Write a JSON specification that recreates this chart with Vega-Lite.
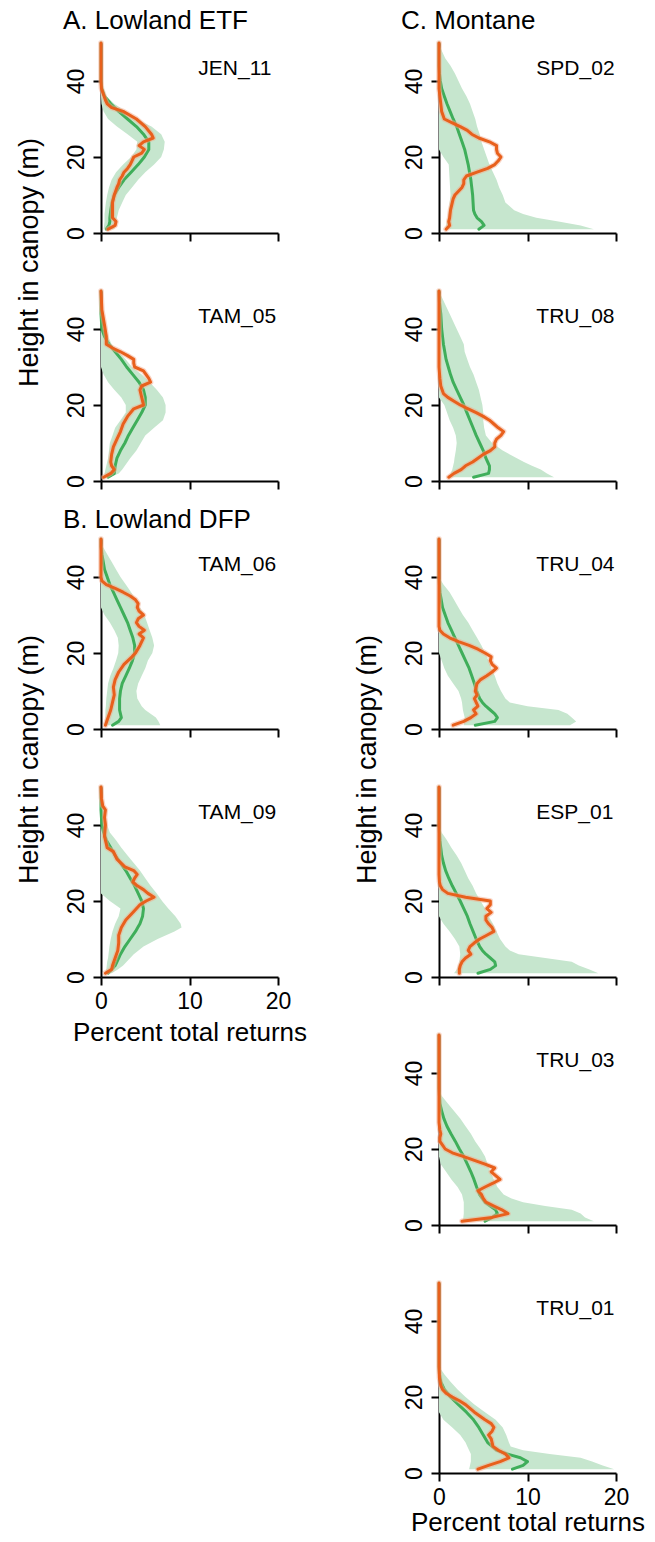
{
"$schema": "https://vega.github.io/schema/vega-lite/v6.json",
"padding": {"left": 15, "top": 8, "right": 5, "bottom": 0},
"config": {
  "font": "Liberation Sans",
  "view": {"stroke": null},
  "axis": {"grid": false, "domainColor": "black", "domainWidth": 2, "tickColor": "black", "tickWidth": 2, "tickSize": 8, "labelColor": "black", "labelFontSize": 23, "titleColor": "black", "titleFontSize": 26, "titleFontWeight": "normal", "labelFlush": false, "labelOverlap": false}
},
"datasets": {
"labels": [{"site":"JEN_11"},{"site":"TAM_05"},{"site":"TAM_06"},{"site":"TAM_09"},{"site":"SPD_02"},{"site":"TRU_08"},{"site":"TRU_04"},{"site":"ESP_01"},{"site":"TRU_03"},{"site":"TRU_01"}],
"band": [
{"site":"JEN_11","h":1,"lo":0.3,"hi":1.5,"pct":0.6},{"site":"JEN_11","h":2,"lo":0.35,"hi":1.6,"pct":0.9},{"site":"JEN_11","h":3,"lo":0.4,"hi":1.7,"pct":1.0},{"site":"JEN_11","h":4,"lo":0.4,"hi":1.8,"pct":1.0},{"site":"JEN_11","h":5,"lo":0.4,"hi":1.9,"pct":1.05},{"site":"JEN_11","h":6,"lo":0.45,"hi":2.0,"pct":1.1},{"site":"JEN_11","h":8,"lo":0.55,"hi":2.4,"pct":1.25},{"site":"JEN_11","h":10,"lo":0.7,"hi":2.8,"pct":1.5},{"site":"JEN_11","h":12,"lo":0.9,"hi":3.5,"pct":2.0},{"site":"JEN_11","h":14,"lo":1.2,"hi":4.2,"pct":2.6},{"site":"JEN_11","h":16,"lo":1.7,"hi":5.0,"pct":3.4},{"site":"JEN_11","h":18,"lo":2.5,"hi":6.0,"pct":4.2},{"site":"JEN_11","h":20,"lo":3.4,"hi":6.8,"pct":4.9},{"site":"JEN_11","h":22,"lo":4.0,"hi":7.1,"pct":5.4},{"site":"JEN_11","h":24,"lo":4.1,"hi":7.2,"pct":5.4},{"site":"JEN_11","h":26,"lo":3.0,"hi":6.8,"pct":4.8},{"site":"JEN_11","h":28,"lo":1.8,"hi":5.7,"pct":4.0},{"site":"JEN_11","h":30,"lo":0.8,"hi":4.0,"pct":3.0},{"site":"JEN_11","h":32,"lo":0.3,"hi":2.8,"pct":2.0},{"site":"JEN_11","h":34,"lo":0.05,"hi":1.5,"pct":1.1},{"site":"JEN_11","h":36,"lo":0,"hi":0.6,"pct":0.4},{"site":"JEN_11","h":38,"lo":0,"hi":0.2,"pct":0.1},{"site":"JEN_11","h":40,"lo":0,"hi":0.05,"pct":0},{"site":"JEN_11","h":50,"lo":0,"hi":0,"pct":0},
{"site":"TAM_05","h":1,"lo":0.3,"hi":1.0,"pct":0.8},{"site":"TAM_05","h":2,"lo":0.4,"hi":2.0,"pct":1.5},{"site":"TAM_05","h":3,"lo":0.5,"hi":2.4,"pct":1.55},{"site":"TAM_05","h":4,"lo":0.6,"hi":2.7,"pct":1.6},{"site":"TAM_05","h":5,"lo":0.7,"hi":3.0,"pct":1.7},{"site":"TAM_05","h":6,"lo":0.8,"hi":3.3,"pct":1.8},{"site":"TAM_05","h":8,"lo":0.9,"hi":4.0,"pct":2.2},{"site":"TAM_05","h":10,"lo":1.0,"hi":4.5,"pct":2.7},{"site":"TAM_05","h":12,"lo":1.3,"hi":5.0,"pct":3.1},{"site":"TAM_05","h":14,"lo":1.6,"hi":6.0,"pct":3.6},{"site":"TAM_05","h":16,"lo":2.2,"hi":7.0,"pct":4.1},{"site":"TAM_05","h":18,"lo":2.8,"hi":7.3,"pct":4.6},{"site":"TAM_05","h":20,"lo":2.8,"hi":7.3,"pct":5.0},{"site":"TAM_05","h":22,"lo":2.3,"hi":7.0,"pct":5.0},{"site":"TAM_05","h":24,"lo":1.5,"hi":6.3,"pct":4.8},{"site":"TAM_05","h":26,"lo":0.8,"hi":5.5,"pct":4.3},{"site":"TAM_05","h":28,"lo":0.3,"hi":4.6,"pct":3.6},{"site":"TAM_05","h":30,"lo":0,"hi":3.5,"pct":2.9},{"site":"TAM_05","h":32,"lo":0,"hi":2.8,"pct":2.3},{"site":"TAM_05","h":34,"lo":0,"hi":2.0,"pct":1.6},{"site":"TAM_05","h":36,"lo":0,"hi":1.2,"pct":0.9},{"site":"TAM_05","h":38,"lo":0,"hi":0.8,"pct":0.4},{"site":"TAM_05","h":40,"lo":0,"hi":0.5,"pct":0.1},{"site":"TAM_05","h":42,"lo":0,"hi":0.3,"pct":0.05},{"site":"TAM_05","h":44,"lo":0,"hi":0.1,"pct":0},{"site":"TAM_05","h":50,"lo":0,"hi":0,"pct":0},
{"site":"TAM_06","h":1,"lo":0.4,"hi":6.7,"pct":1.3},{"site":"TAM_06","h":2,"lo":0.45,"hi":6.5,"pct":2.0},{"site":"TAM_06","h":3,"lo":0.5,"hi":6.2,"pct":2.3},{"site":"TAM_06","h":4,"lo":0.5,"hi":5.6,"pct":2.2},{"site":"TAM_06","h":5,"lo":0.5,"hi":5.0,"pct":2.1},{"site":"TAM_06","h":6,"lo":0.55,"hi":4.6,"pct":2.1},{"site":"TAM_06","h":8,"lo":0.6,"hi":4.1,"pct":2.1},{"site":"TAM_06","h":10,"lo":0.7,"hi":4.0,"pct":2.2},{"site":"TAM_06","h":12,"lo":0.8,"hi":4.2,"pct":2.4},{"site":"TAM_06","h":14,"lo":1.05,"hi":4.6,"pct":2.8},{"site":"TAM_06","h":16,"lo":1.4,"hi":5.0,"pct":3.2},{"site":"TAM_06","h":18,"lo":1.7,"hi":5.3,"pct":3.55},{"site":"TAM_06","h":20,"lo":1.95,"hi":5.8,"pct":3.8},{"site":"TAM_06","h":22,"lo":2.0,"hi":6.0,"pct":3.8},{"site":"TAM_06","h":24,"lo":1.9,"hi":5.8,"pct":3.6},{"site":"TAM_06","h":26,"lo":1.5,"hi":5.5,"pct":3.3},{"site":"TAM_06","h":28,"lo":1.0,"hi":5.2,"pct":3.0},{"site":"TAM_06","h":30,"lo":0.4,"hi":4.9,"pct":2.6},{"site":"TAM_06","h":32,"lo":0,"hi":4.4,"pct":2.2},{"site":"TAM_06","h":34,"lo":0,"hi":3.9,"pct":1.8},{"site":"TAM_06","h":36,"lo":0,"hi":3.4,"pct":1.4},{"site":"TAM_06","h":38,"lo":0,"hi":2.8,"pct":1.0},{"site":"TAM_06","h":40,"lo":0,"hi":2.2,"pct":0.7},{"site":"TAM_06","h":42,"lo":0,"hi":1.7,"pct":0.4},{"site":"TAM_06","h":44,"lo":0,"hi":1.2,"pct":0.25},{"site":"TAM_06","h":46,"lo":0,"hi":0.7,"pct":0.1},{"site":"TAM_06","h":48,"lo":0,"hi":0.2,"pct":0},{"site":"TAM_06","h":50,"lo":0,"hi":0,"pct":0},
{"site":"TAM_09","h":1,"lo":0.4,"hi":1.2,"pct":0.8},{"site":"TAM_09","h":2,"lo":0.6,"hi":1.9,"pct":1.2},{"site":"TAM_09","h":3,"lo":0.65,"hi":2.5,"pct":1.6},{"site":"TAM_09","h":4,"lo":0.7,"hi":2.9,"pct":1.8},{"site":"TAM_09","h":5,"lo":0.8,"hi":3.3,"pct":2.0},{"site":"TAM_09","h":6,"lo":0.85,"hi":3.7,"pct":2.2},{"site":"TAM_09","h":8,"lo":0.95,"hi":4.8,"pct":2.7},{"site":"TAM_09","h":10,"lo":1.1,"hi":6.4,"pct":3.3},{"site":"TAM_09","h":12,"lo":1.3,"hi":8.3,"pct":3.9},{"site":"TAM_09","h":13,"lo":1.45,"hi":9.1,"pct":4.15},{"site":"TAM_09","h":14,"lo":1.6,"hi":9.0,"pct":4.4},{"site":"TAM_09","h":16,"lo":2.0,"hi":8.4,"pct":4.7},{"site":"TAM_09","h":18,"lo":2.2,"hi":7.6,"pct":4.8},{"site":"TAM_09","h":20,"lo":1.0,"hi":6.9,"pct":4.6},{"site":"TAM_09","h":22,"lo":0,"hi":6.3,"pct":4.2},{"site":"TAM_09","h":24,"lo":0,"hi":5.6,"pct":3.8},{"site":"TAM_09","h":26,"lo":0,"hi":5.0,"pct":3.3},{"site":"TAM_09","h":28,"lo":0,"hi":4.4,"pct":2.8},{"site":"TAM_09","h":30,"lo":0,"hi":3.7,"pct":2.2},{"site":"TAM_09","h":32,"lo":0,"hi":3.0,"pct":1.6},{"site":"TAM_09","h":34,"lo":0,"hi":2.3,"pct":1.1},{"site":"TAM_09","h":36,"lo":0,"hi":1.7,"pct":0.6},{"site":"TAM_09","h":38,"lo":0,"hi":1.0,"pct":0.3},{"site":"TAM_09","h":40,"lo":0,"hi":0.7,"pct":0.1},{"site":"TAM_09","h":42,"lo":0,"hi":0.5,"pct":0.05},{"site":"TAM_09","h":44,"lo":0,"hi":0.4,"pct":0},{"site":"TAM_09","h":47,"lo":0,"hi":0.2,"pct":0},{"site":"TAM_09","h":50,"lo":0,"hi":0,"pct":0},
{"site":"SPD_02","h":1,"lo":0.7,"hi":17.5,"pct":4.5},{"site":"SPD_02","h":2,"lo":0.8,"hi":16.0,"pct":5.1},{"site":"SPD_02","h":3,"lo":0.9,"hi":13.5,"pct":4.8},{"site":"SPD_02","h":4,"lo":1.0,"hi":11.0,"pct":4.3},{"site":"SPD_02","h":5,"lo":1.05,"hi":9.5,"pct":4.05},{"site":"SPD_02","h":6,"lo":1.1,"hi":8.5,"pct":3.9},{"site":"SPD_02","h":8,"lo":1.2,"hi":7.5,"pct":3.85},{"site":"SPD_02","h":10,"lo":1.3,"hi":7.2,"pct":3.8},{"site":"SPD_02","h":12,"lo":1.25,"hi":6.8,"pct":3.7},{"site":"SPD_02","h":14,"lo":1.2,"hi":6.5,"pct":3.6},{"site":"SPD_02","h":16,"lo":1.15,"hi":6.1,"pct":3.45},{"site":"SPD_02","h":18,"lo":1.1,"hi":5.7,"pct":3.3},{"site":"SPD_02","h":20,"lo":0.5,"hi":5.4,"pct":3.1},{"site":"SPD_02","h":22,"lo":0,"hi":5.1,"pct":2.9},{"site":"SPD_02","h":24,"lo":0,"hi":4.8,"pct":2.6},{"site":"SPD_02","h":26,"lo":0,"hi":4.6,"pct":2.3},{"site":"SPD_02","h":28,"lo":0,"hi":4.3,"pct":2.0},{"site":"SPD_02","h":30,"lo":0,"hi":4.1,"pct":1.6},{"site":"SPD_02","h":32,"lo":0,"hi":3.8,"pct":1.25},{"site":"SPD_02","h":34,"lo":0,"hi":3.5,"pct":0.9},{"site":"SPD_02","h":36,"lo":0,"hi":3.1,"pct":0.6},{"site":"SPD_02","h":38,"lo":0,"hi":2.6,"pct":0.3},{"site":"SPD_02","h":40,"lo":0,"hi":2.2,"pct":0.15},{"site":"SPD_02","h":42,"lo":0,"hi":1.8,"pct":0.05},{"site":"SPD_02","h":44,"lo":0,"hi":1.3,"pct":0},{"site":"SPD_02","h":46,"lo":0,"hi":0.7,"pct":0},{"site":"SPD_02","h":48,"lo":0,"hi":0.3,"pct":0},{"site":"SPD_02","h":50,"lo":0,"hi":0,"pct":0},
{"site":"TRU_08","h":1,"lo":1.0,"hi":13.0,"pct":3.9},{"site":"TRU_08","h":2,"lo":1.3,"hi":12.2,"pct":5.6},{"site":"TRU_08","h":3,"lo":1.5,"hi":11.5,"pct":5.7},{"site":"TRU_08","h":4,"lo":1.6,"hi":10.5,"pct":5.7},{"site":"TRU_08","h":5,"lo":1.7,"hi":9.6,"pct":5.5},{"site":"TRU_08","h":6,"lo":1.75,"hi":8.8,"pct":5.3},{"site":"TRU_08","h":8,"lo":1.9,"hi":7.2,"pct":5.0},{"site":"TRU_08","h":10,"lo":2.0,"hi":6.0,"pct":4.6},{"site":"TRU_08","h":12,"lo":1.9,"hi":5.3,"pct":4.2},{"site":"TRU_08","h":14,"lo":1.6,"hi":5.1,"pct":3.85},{"site":"TRU_08","h":16,"lo":1.2,"hi":5.0,"pct":3.5},{"site":"TRU_08","h":18,"lo":0.9,"hi":5.0,"pct":3.15},{"site":"TRU_08","h":20,"lo":0.6,"hi":4.9,"pct":2.8},{"site":"TRU_08","h":22,"lo":0,"hi":4.7,"pct":2.4},{"site":"TRU_08","h":24,"lo":0,"hi":4.5,"pct":2.0},{"site":"TRU_08","h":26,"lo":0,"hi":4.2,"pct":1.6},{"site":"TRU_08","h":28,"lo":0,"hi":3.9,"pct":1.3},{"site":"TRU_08","h":30,"lo":0,"hi":3.5,"pct":1.05},{"site":"TRU_08","h":32,"lo":0,"hi":3.2,"pct":0.8},{"site":"TRU_08","h":34,"lo":0,"hi":2.9,"pct":0.65},{"site":"TRU_08","h":36,"lo":0,"hi":2.8,"pct":0.5},{"site":"TRU_08","h":38,"lo":0,"hi":2.4,"pct":0.4},{"site":"TRU_08","h":40,"lo":0,"hi":2.0,"pct":0.3},{"site":"TRU_08","h":44,"lo":0,"hi":1.2,"pct":0.2},{"site":"TRU_08","h":47,"lo":0,"hi":0.6,"pct":0.05},{"site":"TRU_08","h":50,"lo":0,"hi":0,"pct":0},
{"site":"TRU_04","h":1,"lo":2.8,"hi":14.8,"pct":4.1},{"site":"TRU_04","h":2,"lo":2.85,"hi":15.5,"pct":6.3},{"site":"TRU_04","h":3,"lo":2.9,"hi":15.0,"pct":6.6},{"site":"TRU_04","h":4,"lo":2.8,"hi":14.5,"pct":6.3},{"site":"TRU_04","h":5,"lo":2.7,"hi":13.5,"pct":5.8},{"site":"TRU_04","h":6,"lo":2.65,"hi":10.0,"pct":5.3},{"site":"TRU_04","h":7,"lo":2.6,"hi":8.0,"pct":4.9},{"site":"TRU_04","h":8,"lo":2.5,"hi":7.5,"pct":4.6},{"site":"TRU_04","h":10,"lo":2.2,"hi":7.0,"pct":4.25},{"site":"TRU_04","h":12,"lo":1.6,"hi":6.6,"pct":4.0},{"site":"TRU_04","h":14,"lo":1.0,"hi":6.3,"pct":3.7},{"site":"TRU_04","h":16,"lo":0.6,"hi":5.9,"pct":3.4},{"site":"TRU_04","h":18,"lo":0.3,"hi":5.6,"pct":3.0},{"site":"TRU_04","h":20,"lo":0,"hi":5.2,"pct":2.6},{"site":"TRU_04","h":22,"lo":0,"hi":4.8,"pct":2.2},{"site":"TRU_04","h":24,"lo":0,"hi":4.3,"pct":1.8},{"site":"TRU_04","h":26,"lo":0,"hi":3.8,"pct":1.4},{"site":"TRU_04","h":28,"lo":0,"hi":3.3,"pct":1.0},{"site":"TRU_04","h":30,"lo":0,"hi":2.7,"pct":0.7},{"site":"TRU_04","h":32,"lo":0,"hi":2.2,"pct":0.4},{"site":"TRU_04","h":34,"lo":0,"hi":1.7,"pct":0.25},{"site":"TRU_04","h":36,"lo":0,"hi":1.2,"pct":0.1},{"site":"TRU_04","h":38,"lo":0,"hi":0.5,"pct":0.05},{"site":"TRU_04","h":40,"lo":0,"hi":0,"pct":0},{"site":"TRU_04","h":50,"lo":0,"hi":0,"pct":0},
{"site":"ESP_01","h":1,"lo":1.7,"hi":18.0,"pct":4.4},{"site":"ESP_01","h":2,"lo":2.0,"hi":17.0,"pct":5.8},{"site":"ESP_01","h":3,"lo":2.2,"hi":15.8,"pct":6.4},{"site":"ESP_01","h":4,"lo":2.3,"hi":15.0,"pct":6.3},{"site":"ESP_01","h":5,"lo":2.35,"hi":12.0,"pct":5.8},{"site":"ESP_01","h":6,"lo":2.4,"hi":9.0,"pct":5.3},{"site":"ESP_01","h":7,"lo":2.35,"hi":8.0,"pct":4.9},{"site":"ESP_01","h":8,"lo":2.3,"hi":7.5,"pct":4.6},{"site":"ESP_01","h":10,"lo":1.8,"hi":6.9,"pct":4.2},{"site":"ESP_01","h":12,"lo":1.2,"hi":6.5,"pct":3.85},{"site":"ESP_01","h":14,"lo":0.5,"hi":6.1,"pct":3.5},{"site":"ESP_01","h":16,"lo":0,"hi":5.6,"pct":3.2},{"site":"ESP_01","h":18,"lo":0,"hi":5.2,"pct":2.8},{"site":"ESP_01","h":20,"lo":0,"hi":4.7,"pct":2.4},{"site":"ESP_01","h":22,"lo":0,"hi":4.2,"pct":1.95},{"site":"ESP_01","h":24,"lo":0,"hi":3.8,"pct":1.5},{"site":"ESP_01","h":26,"lo":0,"hi":3.3,"pct":1.1},{"site":"ESP_01","h":28,"lo":0,"hi":2.9,"pct":0.75},{"site":"ESP_01","h":30,"lo":0,"hi":2.5,"pct":0.5},{"site":"ESP_01","h":32,"lo":0,"hi":2.0,"pct":0.3},{"site":"ESP_01","h":34,"lo":0,"hi":1.4,"pct":0.2},{"site":"ESP_01","h":36,"lo":0,"hi":0.9,"pct":0.1},{"site":"ESP_01","h":38,"lo":0,"hi":0.3,"pct":0.05},{"site":"ESP_01","h":40,"lo":0,"hi":0,"pct":0},{"site":"ESP_01","h":50,"lo":0,"hi":0,"pct":0},
{"site":"TRU_03","h":1,"lo":2.7,"hi":17.5,"pct":5.2},{"site":"TRU_03","h":2,"lo":2.75,"hi":16.5,"pct":6.0},{"site":"TRU_03","h":3,"lo":2.8,"hi":16.0,"pct":6.6},{"site":"TRU_03","h":4,"lo":2.8,"hi":15.0,"pct":6.4},{"site":"TRU_03","h":5,"lo":2.8,"hi":12.0,"pct":5.8},{"site":"TRU_03","h":6,"lo":2.8,"hi":9.5,"pct":5.2},{"site":"TRU_03","h":7,"lo":2.7,"hi":8.2,"pct":4.9},{"site":"TRU_03","h":8,"lo":2.6,"hi":7.3,"pct":4.6},{"site":"TRU_03","h":10,"lo":2.1,"hi":6.6,"pct":4.25},{"site":"TRU_03","h":12,"lo":1.4,"hi":6.2,"pct":3.95},{"site":"TRU_03","h":14,"lo":0.8,"hi":5.8,"pct":3.6},{"site":"TRU_03","h":16,"lo":0.2,"hi":5.5,"pct":3.2},{"site":"TRU_03","h":18,"lo":0,"hi":5.2,"pct":2.8},{"site":"TRU_03","h":20,"lo":0,"hi":4.7,"pct":2.3},{"site":"TRU_03","h":22,"lo":0,"hi":4.1,"pct":1.85},{"site":"TRU_03","h":24,"lo":0,"hi":3.6,"pct":1.35},{"site":"TRU_03","h":26,"lo":0,"hi":3.0,"pct":0.9},{"site":"TRU_03","h":28,"lo":0,"hi":2.4,"pct":0.55},{"site":"TRU_03","h":30,"lo":0,"hi":1.7,"pct":0.3},{"site":"TRU_03","h":32,"lo":0,"hi":1.0,"pct":0.1},{"site":"TRU_03","h":34,"lo":0,"hi":0.3,"pct":0.05},{"site":"TRU_03","h":36,"lo":0,"hi":0,"pct":0},{"site":"TRU_03","h":50,"lo":0,"hi":0,"pct":0},
{"site":"TRU_01","h":1,"lo":3.4,"hi":19.8,"pct":8.3},{"site":"TRU_01","h":2,"lo":3.5,"hi":18.5,"pct":9.5},{"site":"TRU_01","h":3,"lo":3.6,"hi":17.3,"pct":10.0},{"site":"TRU_01","h":4,"lo":3.6,"hi":16.0,"pct":9.2},{"site":"TRU_01","h":5,"lo":3.6,"hi":12.5,"pct":7.7},{"site":"TRU_01","h":6,"lo":3.4,"hi":9.5,"pct":6.5},{"site":"TRU_01","h":7,"lo":3.2,"hi":8.1,"pct":6.0},{"site":"TRU_01","h":8,"lo":3.0,"hi":7.9,"pct":5.5},{"site":"TRU_01","h":10,"lo":2.4,"hi":7.6,"pct":5.0},{"site":"TRU_01","h":12,"lo":1.5,"hi":7.2,"pct":4.5},{"site":"TRU_01","h":14,"lo":0.5,"hi":6.4,"pct":3.9},{"site":"TRU_01","h":16,"lo":0,"hi":5.2,"pct":3.1},{"site":"TRU_01","h":18,"lo":0,"hi":4.0,"pct":2.2},{"site":"TRU_01","h":20,"lo":0,"hi":3.0,"pct":1.3},{"site":"TRU_01","h":22,"lo":0,"hi":2.1,"pct":0.6},{"site":"TRU_01","h":24,"lo":0,"hi":1.3,"pct":0.2},{"site":"TRU_01","h":26,"lo":0,"hi":0.6,"pct":0.05},{"site":"TRU_01","h":28,"lo":0,"hi":0,"pct":0},{"site":"TRU_01","h":50,"lo":0,"hi":0,"pct":0}
],
"obs": [
{"site":"JEN_11","h":1,"pct":0.8},{"site":"JEN_11","h":2,"pct":1.6},{"site":"JEN_11","h":3,"pct":1.7},{"site":"JEN_11","h":4,"pct":1.3},{"site":"JEN_11","h":6,"pct":1.3},{"site":"JEN_11","h":8,"pct":1.3},{"site":"JEN_11","h":10,"pct":1.5},{"site":"JEN_11","h":12,"pct":1.8},{"site":"JEN_11","h":13,"pct":2.0},{"site":"JEN_11","h":14,"pct":2.1},{"site":"JEN_11","h":15,"pct":2.4},{"site":"JEN_11","h":16,"pct":2.6},{"site":"JEN_11","h":17,"pct":3.0},{"site":"JEN_11","h":18,"pct":3.3},{"site":"JEN_11","h":19,"pct":3.5},{"site":"JEN_11","h":20,"pct":3.7},{"site":"JEN_11","h":21,"pct":4.6},{"site":"JEN_11","h":22,"pct":4.9},{"site":"JEN_11","h":23,"pct":4.3},{"site":"JEN_11","h":24,"pct":4.8},{"site":"JEN_11","h":25,"pct":5.9},{"site":"JEN_11","h":26,"pct":5.7},{"site":"JEN_11","h":28,"pct":5.0},{"site":"JEN_11","h":30,"pct":4.0},{"site":"JEN_11","h":32,"pct":2.5},{"site":"JEN_11","h":33,"pct":1.2},{"site":"JEN_11","h":34,"pct":0.7},{"site":"JEN_11","h":35,"pct":0.5},{"site":"JEN_11","h":37,"pct":0.2},{"site":"JEN_11","h":38,"pct":0.05},{"site":"JEN_11","h":40,"pct":0},{"site":"JEN_11","h":50,"pct":0},
{"site":"TAM_05","h":1,"pct":0.3},{"site":"TAM_05","h":2,"pct":1.1},{"site":"TAM_05","h":3,"pct":1.5},{"site":"TAM_05","h":4,"pct":1.2},{"site":"TAM_05","h":5,"pct":1.1},{"site":"TAM_05","h":7,"pct":1.2},{"site":"TAM_05","h":9,"pct":1.4},{"site":"TAM_05","h":11,"pct":1.8},{"site":"TAM_05","h":13,"pct":2.2},{"site":"TAM_05","h":15,"pct":2.5},{"site":"TAM_05","h":17,"pct":3.0},{"site":"TAM_05","h":19,"pct":3.7},{"site":"TAM_05","h":20,"pct":4.8},{"site":"TAM_05","h":21,"pct":4.7},{"site":"TAM_05","h":22,"pct":4.6},{"site":"TAM_05","h":23,"pct":4.5},{"site":"TAM_05","h":24,"pct":4.4},{"site":"TAM_05","h":25,"pct":4.6},{"site":"TAM_05","h":26,"pct":5.6},{"site":"TAM_05","h":27,"pct":5.4},{"site":"TAM_05","h":28,"pct":5.1},{"site":"TAM_05","h":29,"pct":4.8},{"site":"TAM_05","h":30,"pct":3.8},{"site":"TAM_05","h":31,"pct":3.7},{"site":"TAM_05","h":32,"pct":3.7},{"site":"TAM_05","h":33,"pct":3.0},{"site":"TAM_05","h":34,"pct":2.2},{"site":"TAM_05","h":35,"pct":1.3},{"site":"TAM_05","h":36,"pct":0.6},{"site":"TAM_05","h":38,"pct":0.6},{"site":"TAM_05","h":41,"pct":0.4},{"site":"TAM_05","h":45,"pct":0.1},{"site":"TAM_05","h":50,"pct":0},
{"site":"TAM_06","h":1,"pct":0.5},{"site":"TAM_06","h":3,"pct":0.8},{"site":"TAM_06","h":5,"pct":1.1},{"site":"TAM_06","h":7,"pct":1.3},{"site":"TAM_06","h":9,"pct":1.5},{"site":"TAM_06","h":11,"pct":1.4},{"site":"TAM_06","h":13,"pct":1.6},{"site":"TAM_06","h":15,"pct":2.0},{"site":"TAM_06","h":17,"pct":2.6},{"site":"TAM_06","h":19,"pct":3.5},{"site":"TAM_06","h":20,"pct":3.9},{"site":"TAM_06","h":22,"pct":4.4},{"site":"TAM_06","h":24,"pct":4.8},{"site":"TAM_06","h":25,"pct":4.3},{"site":"TAM_06","h":26,"pct":4.9},{"site":"TAM_06","h":27,"pct":4.3},{"site":"TAM_06","h":28,"pct":4.0},{"site":"TAM_06","h":29,"pct":4.2},{"site":"TAM_06","h":30,"pct":4.8},{"site":"TAM_06","h":31,"pct":4.3},{"site":"TAM_06","h":32,"pct":4.1},{"site":"TAM_06","h":33,"pct":4.2},{"site":"TAM_06","h":34,"pct":3.9},{"site":"TAM_06","h":35,"pct":3.3},{"site":"TAM_06","h":36,"pct":2.5},{"site":"TAM_06","h":37,"pct":1.6},{"site":"TAM_06","h":38,"pct":0.6},{"site":"TAM_06","h":39,"pct":0.1},{"site":"TAM_06","h":40,"pct":0},{"site":"TAM_06","h":50,"pct":0},
{"site":"TAM_09","h":1,"pct":0.5},{"site":"TAM_09","h":2,"pct":1.2},{"site":"TAM_09","h":3,"pct":1.3},{"site":"TAM_09","h":5,"pct":1.6},{"site":"TAM_09","h":7,"pct":1.9},{"site":"TAM_09","h":9,"pct":2.0},{"site":"TAM_09","h":11,"pct":2.0},{"site":"TAM_09","h":13,"pct":2.3},{"site":"TAM_09","h":15,"pct":2.8},{"site":"TAM_09","h":17,"pct":3.6},{"site":"TAM_09","h":19,"pct":4.4},{"site":"TAM_09","h":20,"pct":5.1},{"site":"TAM_09","h":21,"pct":6.0},{"site":"TAM_09","h":22,"pct":5.3},{"site":"TAM_09","h":23,"pct":4.8},{"site":"TAM_09","h":24,"pct":4.1},{"site":"TAM_09","h":25,"pct":3.6},{"site":"TAM_09","h":26,"pct":3.8},{"site":"TAM_09","h":27,"pct":4.1},{"site":"TAM_09","h":28,"pct":3.7},{"site":"TAM_09","h":29,"pct":2.7},{"site":"TAM_09","h":31,"pct":1.8},{"site":"TAM_09","h":33,"pct":1.4},{"site":"TAM_09","h":34,"pct":0.7},{"site":"TAM_09","h":35,"pct":0.6},{"site":"TAM_09","h":37,"pct":0.4},{"site":"TAM_09","h":40,"pct":0.5},{"site":"TAM_09","h":42,"pct":0.4},{"site":"TAM_09","h":44,"pct":0.5},{"site":"TAM_09","h":45,"pct":0.2},{"site":"TAM_09","h":47,"pct":0.05},{"site":"TAM_09","h":50,"pct":0},
{"site":"SPD_02","h":1,"pct":0.8},{"site":"SPD_02","h":2,"pct":1.2},{"site":"SPD_02","h":3,"pct":1.1},{"site":"SPD_02","h":4,"pct":1.2},{"site":"SPD_02","h":6,"pct":1.3},{"site":"SPD_02","h":8,"pct":1.5},{"site":"SPD_02","h":9,"pct":1.6},{"site":"SPD_02","h":10,"pct":1.8},{"site":"SPD_02","h":11,"pct":2.2},{"site":"SPD_02","h":12,"pct":2.6},{"site":"SPD_02","h":13,"pct":2.8},{"site":"SPD_02","h":14,"pct":2.8},{"site":"SPD_02","h":15,"pct":3.1},{"site":"SPD_02","h":16,"pct":4.3},{"site":"SPD_02","h":17,"pct":5.5},{"site":"SPD_02","h":18,"pct":6.3},{"site":"SPD_02","h":19,"pct":6.7},{"site":"SPD_02","h":20,"pct":7.0},{"site":"SPD_02","h":21,"pct":6.6},{"site":"SPD_02","h":22,"pct":6.5},{"site":"SPD_02","h":23,"pct":6.5},{"site":"SPD_02","h":24,"pct":5.7},{"site":"SPD_02","h":25,"pct":4.5},{"site":"SPD_02","h":26,"pct":3.7},{"site":"SPD_02","h":27,"pct":3.2},{"site":"SPD_02","h":28,"pct":2.4},{"site":"SPD_02","h":29,"pct":1.5},{"site":"SPD_02","h":30,"pct":0.6},{"site":"SPD_02","h":32,"pct":0.3},{"site":"SPD_02","h":36,"pct":0.1},{"site":"SPD_02","h":38,"pct":0},{"site":"SPD_02","h":50,"pct":0},
{"site":"TRU_08","h":1,"pct":1.1},{"site":"TRU_08","h":2,"pct":1.7},{"site":"TRU_08","h":3,"pct":2.5},{"site":"TRU_08","h":4,"pct":3.0},{"site":"TRU_08","h":5,"pct":3.8},{"site":"TRU_08","h":6,"pct":4.4},{"site":"TRU_08","h":7,"pct":5.0},{"site":"TRU_08","h":8,"pct":5.8},{"site":"TRU_08","h":9,"pct":6.3},{"site":"TRU_08","h":10,"pct":6.3},{"site":"TRU_08","h":11,"pct":6.5},{"site":"TRU_08","h":12,"pct":7.0},{"site":"TRU_08","h":13,"pct":7.3},{"site":"TRU_08","h":14,"pct":6.7},{"site":"TRU_08","h":15,"pct":6.2},{"site":"TRU_08","h":16,"pct":5.7},{"site":"TRU_08","h":17,"pct":5.0},{"site":"TRU_08","h":18,"pct":4.2},{"site":"TRU_08","h":19,"pct":3.3},{"site":"TRU_08","h":20,"pct":2.4},{"site":"TRU_08","h":21,"pct":1.7},{"site":"TRU_08","h":22,"pct":1.0},{"site":"TRU_08","h":23,"pct":0.5},{"site":"TRU_08","h":25,"pct":0.2},{"site":"TRU_08","h":27,"pct":0.1},{"site":"TRU_08","h":30,"pct":0},{"site":"TRU_08","h":50,"pct":0},
{"site":"TRU_04","h":1,"pct":1.6},{"site":"TRU_04","h":2,"pct":2.8},{"site":"TRU_04","h":3,"pct":3.6},{"site":"TRU_04","h":4,"pct":4.2},{"site":"TRU_04","h":5,"pct":3.9},{"site":"TRU_04","h":6,"pct":4.4},{"site":"TRU_04","h":7,"pct":4.2},{"site":"TRU_04","h":8,"pct":4.0},{"site":"TRU_04","h":9,"pct":4.3},{"site":"TRU_04","h":10,"pct":4.1},{"site":"TRU_04","h":11,"pct":4.2},{"site":"TRU_04","h":12,"pct":4.3},{"site":"TRU_04","h":13,"pct":4.7},{"site":"TRU_04","h":14,"pct":5.4},{"site":"TRU_04","h":15,"pct":6.0},{"site":"TRU_04","h":16,"pct":6.5},{"site":"TRU_04","h":17,"pct":6.0},{"site":"TRU_04","h":18,"pct":5.8},{"site":"TRU_04","h":19,"pct":5.9},{"site":"TRU_04","h":20,"pct":5.2},{"site":"TRU_04","h":21,"pct":4.4},{"site":"TRU_04","h":22,"pct":3.4},{"site":"TRU_04","h":23,"pct":2.2},{"site":"TRU_04","h":24,"pct":1.2},{"site":"TRU_04","h":25,"pct":0.5},{"site":"TRU_04","h":26,"pct":0.1},{"site":"TRU_04","h":27,"pct":0},{"site":"TRU_04","h":50,"pct":0},
{"site":"ESP_01","h":1,"pct":2.3},{"site":"ESP_01","h":2,"pct":2.3},{"site":"ESP_01","h":3,"pct":2.4},{"site":"ESP_01","h":4,"pct":2.6},{"site":"ESP_01","h":5,"pct":3.0},{"site":"ESP_01","h":6,"pct":3.6},{"site":"ESP_01","h":7,"pct":3.3},{"site":"ESP_01","h":8,"pct":3.5},{"site":"ESP_01","h":9,"pct":4.0},{"site":"ESP_01","h":10,"pct":4.6},{"site":"ESP_01","h":11,"pct":5.4},{"site":"ESP_01","h":12,"pct":6.2},{"site":"ESP_01","h":13,"pct":6.0},{"site":"ESP_01","h":14,"pct":5.6},{"site":"ESP_01","h":15,"pct":5.3},{"site":"ESP_01","h":16,"pct":5.3},{"site":"ESP_01","h":17,"pct":5.9},{"site":"ESP_01","h":18,"pct":5.4},{"site":"ESP_01","h":19,"pct":5.8},{"site":"ESP_01","h":20,"pct":5.8},{"site":"ESP_01","h":21,"pct":3.0},{"site":"ESP_01","h":22,"pct":1.0},{"site":"ESP_01","h":23,"pct":0.4},{"site":"ESP_01","h":24,"pct":0.15},{"site":"ESP_01","h":25,"pct":0.05},{"site":"ESP_01","h":27,"pct":0},{"site":"ESP_01","h":50,"pct":0},
{"site":"TRU_03","h":1,"pct":2.6},{"site":"TRU_03","h":2,"pct":6.0},{"site":"TRU_03","h":3,"pct":7.8},{"site":"TRU_03","h":4,"pct":7.1},{"site":"TRU_03","h":5,"pct":6.2},{"site":"TRU_03","h":6,"pct":5.3},{"site":"TRU_03","h":7,"pct":5.0},{"site":"TRU_03","h":8,"pct":4.8},{"site":"TRU_03","h":9,"pct":4.4},{"site":"TRU_03","h":10,"pct":5.2},{"site":"TRU_03","h":11,"pct":6.1},{"site":"TRU_03","h":12,"pct":6.9},{"site":"TRU_03","h":13,"pct":6.4},{"site":"TRU_03","h":14,"pct":5.9},{"site":"TRU_03","h":15,"pct":6.3},{"site":"TRU_03","h":16,"pct":5.2},{"site":"TRU_03","h":17,"pct":4.0},{"site":"TRU_03","h":18,"pct":2.8},{"site":"TRU_03","h":19,"pct":1.5},{"site":"TRU_03","h":20,"pct":0.7},{"site":"TRU_03","h":21,"pct":0.4},{"site":"TRU_03","h":22,"pct":0.1},{"site":"TRU_03","h":23,"pct":0.1},{"site":"TRU_03","h":24,"pct":0.2},{"site":"TRU_03","h":25,"pct":0.1},{"site":"TRU_03","h":27,"pct":0},{"site":"TRU_03","h":50,"pct":0},
{"site":"TRU_01","h":1,"pct":4.4},{"site":"TRU_01","h":2,"pct":5.6},{"site":"TRU_01","h":3,"pct":6.9},{"site":"TRU_01","h":4,"pct":7.9},{"site":"TRU_01","h":5,"pct":7.5},{"site":"TRU_01","h":6,"pct":6.7},{"site":"TRU_01","h":7,"pct":6.1},{"site":"TRU_01","h":8,"pct":6.0},{"site":"TRU_01","h":9,"pct":5.9},{"site":"TRU_01","h":10,"pct":5.6},{"site":"TRU_01","h":11,"pct":6.0},{"site":"TRU_01","h":12,"pct":6.2},{"site":"TRU_01","h":13,"pct":5.9},{"site":"TRU_01","h":14,"pct":5.2},{"site":"TRU_01","h":15,"pct":4.6},{"site":"TRU_01","h":16,"pct":4.0},{"site":"TRU_01","h":17,"pct":3.5},{"site":"TRU_01","h":18,"pct":3.0},{"site":"TRU_01","h":19,"pct":2.3},{"site":"TRU_01","h":20,"pct":1.5},{"site":"TRU_01","h":21,"pct":0.8},{"site":"TRU_01","h":22,"pct":0.4},{"site":"TRU_01","h":23,"pct":0.2},{"site":"TRU_01","h":25,"pct":0.05},{"site":"TRU_01","h":28,"pct":0},{"site":"TRU_01","h":50,"pct":0}
]
},
"hconcat": [
{"vconcat": [
 {"width":177,"height":190,
  "title":{"text":"A. Lowland ETF","anchor":"start","frame":"group","dx":-38,"dy":27,"offset":12,"baseline":"alphabetic","fontSize":26,"fontWeight":"normal","color":"black"},
  "layer":[
   {"encoding":{"y":{"field":"h","type":"quantitative","scale":{"domain":[0,50]},"axis":{"values":[0,10,20,30,40,50],"labelExpr":"datum.value % 20 === 0 && datum.value < 50 ? datum.label : ''","labelAngle":270,"labelAlign":"center","labelBaseline":"alphabetic","labelPadding":10,"title":"Height in canopy (m)","titleFontSize":27,"titleAngle":270,"titleAlign":"center","titleBaseline":"alphabetic","titleX":-64,"titleY":219}},
     "x":{"field":"pct","type":"quantitative","scale":{"domain":[0,20]},"axis":{"values":[0,10,20],"labels":false,"title":null}}},
    "layer":[
     {"data":{"name":"band"},"transform":[{"filter":"datum.site === 'JEN_11'"}],"mark":{"type":"area","orient":"horizontal","color":"#c6e6ce"},"encoding":{"x":{"field":"lo","type":"quantitative"},"x2":{"field":"hi"}}},
     {"data":{"name":"band"},"transform":[{"filter":"datum.site === 'JEN_11'"}],"mark":{"type":"line","color":"#3fae5a","strokeWidth":3,"strokeCap":"round","strokeJoin":"round"},"encoding":{"order":{"field":"h","type":"quantitative"}}},
     {"data":{"name":"obs"},"transform":[{"filter":"datum.site === 'JEN_11'"}],"mark":{"type":"line","color":"#f4a98c","strokeWidth":5.5,"opacity":0.5,"strokeCap":"round","strokeJoin":"round"},"encoding":{"order":{"field":"h","type":"quantitative"}}},
     {"data":{"name":"obs"},"transform":[{"filter":"datum.site === 'JEN_11'"}],"mark":{"type":"line","color":"#e8601c","strokeWidth":3,"strokeCap":"round","strokeJoin":"round"},"encoding":{"order":{"field":"h","type":"quantitative"}}}
    ]},
   {"data":{"name":"labels"},"transform":[{"filter":"datum.site === 'JEN_11'"}],"mark":{"type":"text","align":"left","baseline":"alphabetic","fontSize":21,"color":"black"},"encoding":{"x":{"datum":11,"type":"quantitative"},"y":{"datum":41.6,"type":"quantitative"},"text":{"field":"site","type":"nominal"}}}
  ]},
 {"width":177,"height":190,
  "layer":[
   {"encoding":{"y":{"field":"h","type":"quantitative","scale":{"domain":[0,50]},"axis":{"values":[0,10,20,30,40,50],"labelExpr":"datum.value % 20 === 0 && datum.value < 50 ? datum.label : ''","labelAngle":270,"labelAlign":"center","labelBaseline":"alphabetic","labelPadding":10,"title":null}},
     "x":{"field":"pct","type":"quantitative","scale":{"domain":[0,20]},"axis":{"values":[0,10,20],"labels":false,"title":null}}},
    "layer":[
     {"data":{"name":"band"},"transform":[{"filter":"datum.site === 'TAM_05'"}],"mark":{"type":"area","orient":"horizontal","color":"#c6e6ce"},"encoding":{"x":{"field":"lo","type":"quantitative"},"x2":{"field":"hi"}}},
     {"data":{"name":"band"},"transform":[{"filter":"datum.site === 'TAM_05'"}],"mark":{"type":"line","color":"#3fae5a","strokeWidth":3,"strokeCap":"round","strokeJoin":"round"},"encoding":{"order":{"field":"h","type":"quantitative"}}},
     {"data":{"name":"obs"},"transform":[{"filter":"datum.site === 'TAM_05'"}],"mark":{"type":"line","color":"#f4a98c","strokeWidth":5.5,"opacity":0.5,"strokeCap":"round","strokeJoin":"round"},"encoding":{"order":{"field":"h","type":"quantitative"}}},
     {"data":{"name":"obs"},"transform":[{"filter":"datum.site === 'TAM_05'"}],"mark":{"type":"line","color":"#e8601c","strokeWidth":3,"strokeCap":"round","strokeJoin":"round"},"encoding":{"order":{"field":"h","type":"quantitative"}}}
    ]},
   {"data":{"name":"labels"},"transform":[{"filter":"datum.site === 'TAM_05'"}],"mark":{"type":"text","align":"left","baseline":"alphabetic","fontSize":21,"color":"black"},"encoding":{"x":{"datum":11,"type":"quantitative"},"y":{"datum":41.6,"type":"quantitative"},"text":{"field":"site","type":"nominal"}}}
  ]},
 {"width":177,"height":190,
  "title":{"text":"B. Lowland DFP","anchor":"start","frame":"group","dx":-38,"dy":30,"offset":12,"baseline":"alphabetic","fontSize":26,"fontWeight":"normal","color":"black"},
  "layer":[
   {"encoding":{"y":{"field":"h","type":"quantitative","scale":{"domain":[0,50]},"axis":{"values":[0,10,20,30,40,50],"labelExpr":"datum.value % 20 === 0 && datum.value < 50 ? datum.label : ''","labelAngle":270,"labelAlign":"center","labelBaseline":"alphabetic","labelPadding":10,"title":"Height in canopy (m)","titleFontSize":27,"titleAngle":270,"titleAlign":"center","titleBaseline":"alphabetic","titleX":-64,"titleY":220}},
     "x":{"field":"pct","type":"quantitative","scale":{"domain":[0,20]},"axis":{"values":[0,10,20],"labels":false,"title":null}}},
    "layer":[
     {"data":{"name":"band"},"transform":[{"filter":"datum.site === 'TAM_06'"}],"mark":{"type":"area","orient":"horizontal","color":"#c6e6ce"},"encoding":{"x":{"field":"lo","type":"quantitative"},"x2":{"field":"hi"}}},
     {"data":{"name":"band"},"transform":[{"filter":"datum.site === 'TAM_06'"}],"mark":{"type":"line","color":"#3fae5a","strokeWidth":3,"strokeCap":"round","strokeJoin":"round"},"encoding":{"order":{"field":"h","type":"quantitative"}}},
     {"data":{"name":"obs"},"transform":[{"filter":"datum.site === 'TAM_06'"}],"mark":{"type":"line","color":"#f4a98c","strokeWidth":5.5,"opacity":0.5,"strokeCap":"round","strokeJoin":"round"},"encoding":{"order":{"field":"h","type":"quantitative"}}},
     {"data":{"name":"obs"},"transform":[{"filter":"datum.site === 'TAM_06'"}],"mark":{"type":"line","color":"#e8601c","strokeWidth":3,"strokeCap":"round","strokeJoin":"round"},"encoding":{"order":{"field":"h","type":"quantitative"}}}
    ]},
   {"data":{"name":"labels"},"transform":[{"filter":"datum.site === 'TAM_06'"}],"mark":{"type":"text","align":"left","baseline":"alphabetic","fontSize":21,"color":"black"},"encoding":{"x":{"datum":11,"type":"quantitative"},"y":{"datum":41.6,"type":"quantitative"},"text":{"field":"site","type":"nominal"}}}
  ]},
 {"width":177,"height":190,
  "layer":[
   {"encoding":{"y":{"field":"h","type":"quantitative","scale":{"domain":[0,50]},"axis":{"values":[0,10,20,30,40,50],"labelExpr":"datum.value % 20 === 0 && datum.value < 50 ? datum.label : ''","labelAngle":270,"labelAlign":"center","labelBaseline":"alphabetic","labelPadding":10,"title":null}},
     "x":{"field":"pct","type":"quantitative","scale":{"domain":[0,20]},"axis":{"values":[0,10,20],"labelBaseline":"alphabetic","labelPadding":23,"title":"Percent total returns","titleBaseline":"alphabetic","titleY":63}}},
    "layer":[
     {"data":{"name":"band"},"transform":[{"filter":"datum.site === 'TAM_09'"}],"mark":{"type":"area","orient":"horizontal","color":"#c6e6ce"},"encoding":{"x":{"field":"lo","type":"quantitative"},"x2":{"field":"hi"}}},
     {"data":{"name":"band"},"transform":[{"filter":"datum.site === 'TAM_09'"}],"mark":{"type":"line","color":"#3fae5a","strokeWidth":3,"strokeCap":"round","strokeJoin":"round"},"encoding":{"order":{"field":"h","type":"quantitative"}}},
     {"data":{"name":"obs"},"transform":[{"filter":"datum.site === 'TAM_09'"}],"mark":{"type":"line","color":"#f4a98c","strokeWidth":5.5,"opacity":0.5,"strokeCap":"round","strokeJoin":"round"},"encoding":{"order":{"field":"h","type":"quantitative"}}},
     {"data":{"name":"obs"},"transform":[{"filter":"datum.site === 'TAM_09'"}],"mark":{"type":"line","color":"#e8601c","strokeWidth":3,"strokeCap":"round","strokeJoin":"round"},"encoding":{"order":{"field":"h","type":"quantitative"}}}
    ]},
   {"data":{"name":"labels"},"transform":[{"filter":"datum.site === 'TAM_09'"}],"mark":{"type":"text","align":"left","baseline":"alphabetic","fontSize":21,"color":"black"},"encoding":{"x":{"datum":11,"type":"quantitative"},"y":{"datum":41.6,"type":"quantitative"},"text":{"field":"site","type":"nominal"}}}
  ]}
 ], "spacing": 58, "bounds": "flush"},
{"vconcat": [
 {"width":177,"height":190,
  "title":{"text":"C. Montane","anchor":"start","frame":"group","dx":-38,"dy":27,"offset":12,"baseline":"alphabetic","fontSize":26,"fontWeight":"normal","color":"black"},
  "layer":[
   {"encoding":{"y":{"field":"h","type":"quantitative","scale":{"domain":[0,50]},"axis":{"values":[0,10,20,30,40,50],"labelExpr":"datum.value % 20 === 0 && datum.value < 50 ? datum.label : ''","labelAngle":270,"labelAlign":"center","labelBaseline":"alphabetic","labelPadding":10,"title":null}},
     "x":{"field":"pct","type":"quantitative","scale":{"domain":[0,20]},"axis":{"values":[0,10,20],"labels":false,"title":null}}},
    "layer":[
     {"data":{"name":"band"},"transform":[{"filter":"datum.site === 'SPD_02'"}],"mark":{"type":"area","orient":"horizontal","color":"#c6e6ce"},"encoding":{"x":{"field":"lo","type":"quantitative"},"x2":{"field":"hi"}}},
     {"data":{"name":"band"},"transform":[{"filter":"datum.site === 'SPD_02'"}],"mark":{"type":"line","color":"#3fae5a","strokeWidth":3,"strokeCap":"round","strokeJoin":"round"},"encoding":{"order":{"field":"h","type":"quantitative"}}},
     {"data":{"name":"obs"},"transform":[{"filter":"datum.site === 'SPD_02'"}],"mark":{"type":"line","color":"#f4a98c","strokeWidth":5.5,"opacity":0.5,"strokeCap":"round","strokeJoin":"round"},"encoding":{"order":{"field":"h","type":"quantitative"}}},
     {"data":{"name":"obs"},"transform":[{"filter":"datum.site === 'SPD_02'"}],"mark":{"type":"line","color":"#e8601c","strokeWidth":3,"strokeCap":"round","strokeJoin":"round"},"encoding":{"order":{"field":"h","type":"quantitative"}}}
    ]},
   {"data":{"name":"labels"},"transform":[{"filter":"datum.site === 'SPD_02'"}],"mark":{"type":"text","align":"left","baseline":"alphabetic","fontSize":21,"color":"black"},"encoding":{"x":{"datum":11,"type":"quantitative"},"y":{"datum":41.6,"type":"quantitative"},"text":{"field":"site","type":"nominal"}}}
  ]},
 {"width":177,"height":190,
  "layer":[
   {"encoding":{"y":{"field":"h","type":"quantitative","scale":{"domain":[0,50]},"axis":{"values":[0,10,20,30,40,50],"labelExpr":"datum.value % 20 === 0 && datum.value < 50 ? datum.label : ''","labelAngle":270,"labelAlign":"center","labelBaseline":"alphabetic","labelPadding":10,"title":null}},
     "x":{"field":"pct","type":"quantitative","scale":{"domain":[0,20]},"axis":{"values":[0,10,20],"labels":false,"title":null}}},
    "layer":[
     {"data":{"name":"band"},"transform":[{"filter":"datum.site === 'TRU_08'"}],"mark":{"type":"area","orient":"horizontal","color":"#c6e6ce"},"encoding":{"x":{"field":"lo","type":"quantitative"},"x2":{"field":"hi"}}},
     {"data":{"name":"band"},"transform":[{"filter":"datum.site === 'TRU_08'"}],"mark":{"type":"line","color":"#3fae5a","strokeWidth":3,"strokeCap":"round","strokeJoin":"round"},"encoding":{"order":{"field":"h","type":"quantitative"}}},
     {"data":{"name":"obs"},"transform":[{"filter":"datum.site === 'TRU_08'"}],"mark":{"type":"line","color":"#f4a98c","strokeWidth":5.5,"opacity":0.5,"strokeCap":"round","strokeJoin":"round"},"encoding":{"order":{"field":"h","type":"quantitative"}}},
     {"data":{"name":"obs"},"transform":[{"filter":"datum.site === 'TRU_08'"}],"mark":{"type":"line","color":"#e8601c","strokeWidth":3,"strokeCap":"round","strokeJoin":"round"},"encoding":{"order":{"field":"h","type":"quantitative"}}}
    ]},
   {"data":{"name":"labels"},"transform":[{"filter":"datum.site === 'TRU_08'"}],"mark":{"type":"text","align":"left","baseline":"alphabetic","fontSize":21,"color":"black"},"encoding":{"x":{"datum":11,"type":"quantitative"},"y":{"datum":41.6,"type":"quantitative"},"text":{"field":"site","type":"nominal"}}}
  ]},
 {"width":177,"height":190,
  "layer":[
   {"encoding":{"y":{"field":"h","type":"quantitative","scale":{"domain":[0,50]},"axis":{"values":[0,10,20,30,40,50],"labelExpr":"datum.value % 20 === 0 && datum.value < 50 ? datum.label : ''","labelAngle":270,"labelAlign":"center","labelBaseline":"alphabetic","labelPadding":10,"title":"Height in canopy (m)","titleFontSize":27,"titleAngle":270,"titleAlign":"center","titleBaseline":"alphabetic","titleX":-64,"titleY":220}},
     "x":{"field":"pct","type":"quantitative","scale":{"domain":[0,20]},"axis":{"values":[0,10,20],"labels":false,"title":null}}},
    "layer":[
     {"data":{"name":"band"},"transform":[{"filter":"datum.site === 'TRU_04'"}],"mark":{"type":"area","orient":"horizontal","color":"#c6e6ce"},"encoding":{"x":{"field":"lo","type":"quantitative"},"x2":{"field":"hi"}}},
     {"data":{"name":"band"},"transform":[{"filter":"datum.site === 'TRU_04'"}],"mark":{"type":"line","color":"#3fae5a","strokeWidth":3,"strokeCap":"round","strokeJoin":"round"},"encoding":{"order":{"field":"h","type":"quantitative"}}},
     {"data":{"name":"obs"},"transform":[{"filter":"datum.site === 'TRU_04'"}],"mark":{"type":"line","color":"#f4a98c","strokeWidth":5.5,"opacity":0.5,"strokeCap":"round","strokeJoin":"round"},"encoding":{"order":{"field":"h","type":"quantitative"}}},
     {"data":{"name":"obs"},"transform":[{"filter":"datum.site === 'TRU_04'"}],"mark":{"type":"line","color":"#e8601c","strokeWidth":3,"strokeCap":"round","strokeJoin":"round"},"encoding":{"order":{"field":"h","type":"quantitative"}}}
    ]},
   {"data":{"name":"labels"},"transform":[{"filter":"datum.site === 'TRU_04'"}],"mark":{"type":"text","align":"left","baseline":"alphabetic","fontSize":21,"color":"black"},"encoding":{"x":{"datum":11,"type":"quantitative"},"y":{"datum":41.6,"type":"quantitative"},"text":{"field":"site","type":"nominal"}}}
  ]},
 {"width":177,"height":190,
  "layer":[
   {"encoding":{"y":{"field":"h","type":"quantitative","scale":{"domain":[0,50]},"axis":{"values":[0,10,20,30,40,50],"labelExpr":"datum.value % 20 === 0 && datum.value < 50 ? datum.label : ''","labelAngle":270,"labelAlign":"center","labelBaseline":"alphabetic","labelPadding":10,"title":null}},
     "x":{"field":"pct","type":"quantitative","scale":{"domain":[0,20]},"axis":{"values":[0,10,20],"labels":false,"title":null}}},
    "layer":[
     {"data":{"name":"band"},"transform":[{"filter":"datum.site === 'ESP_01'"}],"mark":{"type":"area","orient":"horizontal","color":"#c6e6ce"},"encoding":{"x":{"field":"lo","type":"quantitative"},"x2":{"field":"hi"}}},
     {"data":{"name":"band"},"transform":[{"filter":"datum.site === 'ESP_01'"}],"mark":{"type":"line","color":"#3fae5a","strokeWidth":3,"strokeCap":"round","strokeJoin":"round"},"encoding":{"order":{"field":"h","type":"quantitative"}}},
     {"data":{"name":"obs"},"transform":[{"filter":"datum.site === 'ESP_01'"}],"mark":{"type":"line","color":"#f4a98c","strokeWidth":5.5,"opacity":0.5,"strokeCap":"round","strokeJoin":"round"},"encoding":{"order":{"field":"h","type":"quantitative"}}},
     {"data":{"name":"obs"},"transform":[{"filter":"datum.site === 'ESP_01'"}],"mark":{"type":"line","color":"#e8601c","strokeWidth":3,"strokeCap":"round","strokeJoin":"round"},"encoding":{"order":{"field":"h","type":"quantitative"}}}
    ]},
   {"data":{"name":"labels"},"transform":[{"filter":"datum.site === 'ESP_01'"}],"mark":{"type":"text","align":"left","baseline":"alphabetic","fontSize":21,"color":"black"},"encoding":{"x":{"datum":11,"type":"quantitative"},"y":{"datum":41.6,"type":"quantitative"},"text":{"field":"site","type":"nominal"}}}
  ]},
 {"width":177,"height":190,
  "layer":[
   {"encoding":{"y":{"field":"h","type":"quantitative","scale":{"domain":[0,50]},"axis":{"values":[0,10,20,30,40,50],"labelExpr":"datum.value % 20 === 0 && datum.value < 50 ? datum.label : ''","labelAngle":270,"labelAlign":"center","labelBaseline":"alphabetic","labelPadding":10,"title":null}},
     "x":{"field":"pct","type":"quantitative","scale":{"domain":[0,20]},"axis":{"values":[0,10,20],"labels":false,"title":null}}},
    "layer":[
     {"data":{"name":"band"},"transform":[{"filter":"datum.site === 'TRU_03'"}],"mark":{"type":"area","orient":"horizontal","color":"#c6e6ce"},"encoding":{"x":{"field":"lo","type":"quantitative"},"x2":{"field":"hi"}}},
     {"data":{"name":"band"},"transform":[{"filter":"datum.site === 'TRU_03'"}],"mark":{"type":"line","color":"#3fae5a","strokeWidth":3,"strokeCap":"round","strokeJoin":"round"},"encoding":{"order":{"field":"h","type":"quantitative"}}},
     {"data":{"name":"obs"},"transform":[{"filter":"datum.site === 'TRU_03'"}],"mark":{"type":"line","color":"#f4a98c","strokeWidth":5.5,"opacity":0.5,"strokeCap":"round","strokeJoin":"round"},"encoding":{"order":{"field":"h","type":"quantitative"}}},
     {"data":{"name":"obs"},"transform":[{"filter":"datum.site === 'TRU_03'"}],"mark":{"type":"line","color":"#e8601c","strokeWidth":3,"strokeCap":"round","strokeJoin":"round"},"encoding":{"order":{"field":"h","type":"quantitative"}}}
    ]},
   {"data":{"name":"labels"},"transform":[{"filter":"datum.site === 'TRU_03'"}],"mark":{"type":"text","align":"left","baseline":"alphabetic","fontSize":21,"color":"black"},"encoding":{"x":{"datum":11,"type":"quantitative"},"y":{"datum":41.6,"type":"quantitative"},"text":{"field":"site","type":"nominal"}}}
  ]},
 {"width":177,"height":190,
  "layer":[
   {"encoding":{"y":{"field":"h","type":"quantitative","scale":{"domain":[0,50]},"axis":{"values":[0,10,20,30,40,50],"labelExpr":"datum.value % 20 === 0 && datum.value < 50 ? datum.label : ''","labelAngle":270,"labelAlign":"center","labelBaseline":"alphabetic","labelPadding":10,"title":null}},
     "x":{"field":"pct","type":"quantitative","scale":{"domain":[0,20]},"axis":{"values":[0,10,20],"labelBaseline":"alphabetic","labelPadding":23,"title":"Percent total returns","titleBaseline":"alphabetic","titleY":57}}},
    "layer":[
     {"data":{"name":"band"},"transform":[{"filter":"datum.site === 'TRU_01'"}],"mark":{"type":"area","orient":"horizontal","color":"#c6e6ce"},"encoding":{"x":{"field":"lo","type":"quantitative"},"x2":{"field":"hi"}}},
     {"data":{"name":"band"},"transform":[{"filter":"datum.site === 'TRU_01'"}],"mark":{"type":"line","color":"#3fae5a","strokeWidth":3,"strokeCap":"round","strokeJoin":"round"},"encoding":{"order":{"field":"h","type":"quantitative"}}},
     {"data":{"name":"obs"},"transform":[{"filter":"datum.site === 'TRU_01'"}],"mark":{"type":"line","color":"#f4a98c","strokeWidth":5.5,"opacity":0.5,"strokeCap":"round","strokeJoin":"round"},"encoding":{"order":{"field":"h","type":"quantitative"}}},
     {"data":{"name":"obs"},"transform":[{"filter":"datum.site === 'TRU_01'"}],"mark":{"type":"line","color":"#e8601c","strokeWidth":3,"strokeCap":"round","strokeJoin":"round"},"encoding":{"order":{"field":"h","type":"quantitative"}}}
    ]},
   {"data":{"name":"labels"},"transform":[{"filter":"datum.site === 'TRU_01'"}],"mark":{"type":"text","align":"left","baseline":"alphabetic","fontSize":21,"color":"black"},"encoding":{"x":{"datum":11,"type":"quantitative"},"y":{"datum":41.6,"type":"quantitative"},"text":{"field":"site","type":"nominal"}}}
  ]}
 ], "spacing": 58, "bounds": "flush"}
],
"spacing": 338,
"bounds": "flush"
}
